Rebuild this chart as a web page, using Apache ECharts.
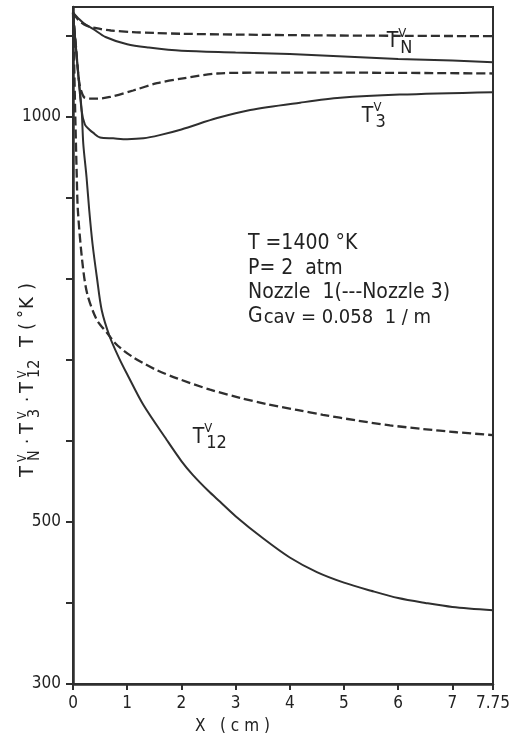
<!DOCTYPE html>
<html>
<head>
<meta charset="utf-8">
<script src="https://cdn.jsdelivr.net/npm/echarts@6/dist/echarts.min.js"></script>
<style>
  html, body { margin: 0; padding: 0; background: #fff; }
  #chart { width: 512px; height: 737px; }
</style>
</head>
<body>
<div id="chart"></div>
<script>
// Vibrational temperatures along the flow axis, T = 1400 K, P = 2 atm.
const FONT = "'DejaVu Sans Condensed', 'DejaVu Sans', sans-serif";
const INK = '#2f2f2f';

// Axis ticks and labelled values
const xTicks = [0, 1, 2, 3, 4, 5, 6, 7, 7.75];
const yTicks = [300, 400, 500, 600, 700, 800, 900, 1000, 1100];
const yLabels = [300, 500, 1000];

// Nozzle 1 (solid lines)
const n1_TN_x  = [0, 0.1, 0.2, 0.37, 0.6, 1.0, 1.4, 2.0, 3.0, 4.0, 5.0, 6.0, 7.0, 7.75];
const n1_TN_T  = [1128, 1121, 1115, 1108, 1098, 1089, 1085, 1081, 1079, 1077, 1074, 1071, 1069, 1067];

const n1_T3_x  = [0, 0.08, 0.16, 0.22, 0.3, 0.37, 0.5, 0.74, 1.0, 1.3, 1.6, 2.0, 2.66, 3.27, 4.19, 4.93, 6.03, 7.75];
const n1_T3_T  = [1128, 1065, 1007, 990, 984, 980, 974, 973, 972, 973, 977, 984, 998, 1008, 1017, 1023, 1027, 1030];

const n1_T12_x = [0, 0.08, 0.16, 0.19, 0.25, 0.30, 0.36, 0.44, 0.53, 0.68, 0.85, 1.0, 1.3, 1.73, 2.0, 2.21, 2.5, 2.71, 3.0, 3.5, 4.0, 4.5, 5.0, 5.5, 6.0, 6.5, 7.0, 7.75];
const n1_T12_T = [1128, 1065, 1007, 966, 925, 884, 843, 802, 761, 728, 702, 682, 644, 601, 575, 558, 538, 525, 507, 480, 456, 438, 425, 415, 406, 400, 395, 391];

// Nozzle 3 (dashed lines)
const n3_TN_x  = [0, 0.1, 0.25, 0.5, 0.7, 1.1, 1.5, 2.0, 3.0, 4.5, 6.0, 7.75];
const n3_TN_T  = [1128, 1119, 1112, 1108, 1106, 1104, 1103, 1102, 1101, 1100, 1099.5, 1099];

const n3_T3_x  = [0, 0.05, 0.12, 0.2, 0.3, 0.44, 0.68, 1.11, 1.55, 2.03, 2.66, 3.45, 5.0, 7.75];
const n3_T3_T  = [1128, 1090, 1040, 1024, 1022, 1022, 1024, 1032, 1041, 1047, 1053, 1054, 1054, 1053];

const n3_T12_x = [0, 0.02, 0.04, 0.07, 0.09, 0.17, 0.26, 0.44, 0.63, 0.77, 0.92, 1.11, 1.29, 1.55, 1.92, 2.53, 3.08, 3.58, 4.13, 4.61, 5.24, 5.85, 6.46, 7.08, 7.75];
const n3_T12_T = [1128, 1070, 1007, 925, 884, 822, 782, 749, 733, 721, 712, 703, 696, 687, 677, 663, 653, 645, 638, 632, 625, 619, 614.5, 610.5, 607];

const zip = (xs, ys) => xs.map((x, i) => [x, ys[i]]);

function curve(name, xs, ys, dashed) {
  return {
    name, type: 'line', data: zip(xs, ys),
    showSymbol: false, symbol: 'none',
    smooth: 0.3,
    lineStyle: { color: INK, width: dashed ? 2.3 : 2, type: dashed ? [9, 4] : 'solid' },
    z: 3, silent: true
  };
}

const chart = echarts.init(document.getElementById('chart'), null, { renderer: 'canvas' });

const option = {
  animation: false,
  backgroundColor: '#fff',
  grid: {
    left: 73, right: 19, top: 7, bottom: 53,
    show: true, borderColor: INK, borderWidth: 2, backgroundColor: 'transparent',
    containLabel: false, outerBoundsMode: 'none'
  },
  xAxis: {
    type: 'value', min: 0, max: 7.75,
    axisLine: { show: true, onZero: false, lineStyle: { color: INK, width: 2.5 } },
    axisTick: { show: true, customValues: xTicks, length: 6, inside: false, lineStyle: { color: INK, width: 2 } },
    axisLabel: {
      show: true, customValues: xTicks, margin: 11,
      formatter: v => (v === 7.75 ? '7.75' : String(Math.round(v))),
      color: '#222', fontFamily: FONT, fontSize: 17
    },
    splitLine: { show: false }
  },
  yAxis: {
    type: 'value', min: 300, max: 1135,
    axisLine: { show: true, onZero: false, lineStyle: { color: INK, width: 2.5 } },
    axisTick: { show: true, customValues: yTicks, length: 7, inside: false, lineStyle: { color: INK, width: 2 } },
    axisLabel: {
      show: true, customValues: yLabels, margin: 12,
      formatter: v => String(v),
      color: '#222', fontFamily: FONT, fontSize: 17
    },
    splitLine: { show: false }
  },
  series: [
    curve('TN nozzle 1', n1_TN_x, n1_TN_T, false),
    curve('T3 nozzle 1', n1_T3_x, n1_T3_T, false),
    curve('T12 nozzle 1', n1_T12_x, n1_T12_T, false),
    curve('TN nozzle 3', n3_TN_x, n3_TN_T, true),
    curve('T3 nozzle 3', n3_T3_x, n3_T3_T, true),
    curve('T12 nozzle 3', n3_T12_x, n3_T12_T, true)
  ]
};
chart.setOption(option);

// ---- text helpers ----
const measureCtx = document.createElement('canvas').getContext('2d');
function textWidth(str, size) {
  measureCtx.font = size + 'px ' + FONT;
  return measureCtx.measureText(str).width;
}
function txt(str, x, y, size, extra) {
  return Object.assign({
    type: 'text', x, y, silent: true,
    style: { text: str, font: size + 'px ' + FONT, fill: '#222', textAlign: 'left', textVerticalAlign: 'middle' }
  }, extra || {});
}

// "T" with a superscript V and a subscript stacked after it, centred vertically on y
function vibTerm(sub, x, y) {
  const w = textWidth('T', 21);
  return [
    txt('T', x, y, 21),
    txt('V', x + w + 0, y - 8.5, 13),
    txt(sub, x + w + 2, y + 6, 18)
  ];
}

// Curve labels anchored in data coordinates
const curveLabels = [
  { sub: 'N',  at: [5.79, 1092] },
  { sub: '3',  at: [5.33, 1000] },
  { sub: '12', at: [2.21, 604] }
];
let graphics = [];
curveLabels.forEach(c => {
  const p = chart.convertToPixel({ gridIndex: 0 }, c.at);
  graphics = graphics.concat(vibTerm(c.sub, p[0], p[1]));
});

// Parameter block
const params = ['T =1400 °K', 'P= 2  atm', 'Nozzle  1(---Nozzle 3)'];
params.forEach((s, i) => graphics.push(txt(s, 248, 244 + i * 24.5, 21)));
graphics.push(txt('G', 248, 317, 21));
graphics.push(txt('cav = 0.058  1 / m', 248 + textWidth('G', 21) + 1, 318, 20));

// x axis name
graphics.push(txt('X   ( c m )', 195, 727, 17));

// y axis name, rotated to read upwards; offsets run from the bottom of the label
const yName = [
  ['T', 0, 0, 20], ['V', 15, -5, 12], ['N', 16, 7, 16],
  ['·', 33, 0, 18],
  ['T', 43, 0, 20], ['V', 58, -5, 12], ['3', 59, 7, 16],
  ['·', 75, 0, 18],
  ['T', 84, 0, 20], ['V', 99, -5, 12], ['12', 99, 7, 16],
  ['T', 130, 0, 20], ['(', 147, 0, 20], ['°', 159, -3, 18], ['K', 168, 0, 20], [')', 187, 0, 20]
];
graphics.push({
  type: 'group', x: 28, y: 477, rotation: Math.PI / 2, silent: true,
  children: yName.map(([s, dx, dy, size]) => txt(s, dx, dy, size))
});

chart.setOption({ graphic: { elements: graphics } });
</script>
</body>
</html>
